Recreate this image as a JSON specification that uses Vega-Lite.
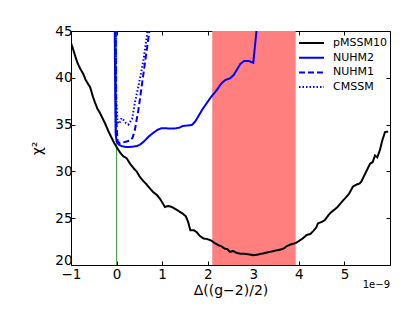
{
  "$schema": "https://vega.github.io/schema/vega-lite/v6.json",
  "autosize": "none",
  "width": 319,
  "height": 234,
  "padding": {"left": 71, "top": 31, "right": 25, "bottom": 47},
  "background": "white",
  "config": {
    "font": "DejaVu Sans",
    "view": {"stroke": "black", "strokeWidth": 1},
    "axis": {
      "domain": false,
      "grid": false,
      "tickColor": "black",
      "tickSize": -4,
      "labelFlush": false,
      "labelOverlap": false,
      "labelFontSize": 13.5,
      "labelColor": "black",
      "labelFont": "DejaVu Sans",
      "titleFont": "DejaVu Sans",
      "titleFontSize": 14,
      "titleFontWeight": "normal",
      "titleColor": "black"
    }
  },
  "datasets": {
    "band": [{"lo": 2.1, "hi": 3.93}],
    "curves": [
      {"s": "pMSSM10", "x": -1.0, "chi": 43.7},
      {"s": "pMSSM10", "x": -0.95, "chi": 43.0},
      {"s": "pMSSM10", "x": -0.9, "chi": 42.2},
      {"s": "pMSSM10", "x": -0.85, "chi": 41.5},
      {"s": "pMSSM10", "x": -0.8, "chi": 41.0},
      {"s": "pMSSM10", "x": -0.73, "chi": 40.4},
      {"s": "pMSSM10", "x": -0.68, "chi": 39.8},
      {"s": "pMSSM10", "x": -0.62, "chi": 39.3},
      {"s": "pMSSM10", "x": -0.58, "chi": 39.0},
      {"s": "pMSSM10", "x": -0.52, "chi": 38.0},
      {"s": "pMSSM10", "x": -0.47, "chi": 37.3},
      {"s": "pMSSM10", "x": -0.42, "chi": 36.7},
      {"s": "pMSSM10", "x": -0.36, "chi": 36.2},
      {"s": "pMSSM10", "x": -0.3, "chi": 35.6},
      {"s": "pMSSM10", "x": -0.25, "chi": 35.1},
      {"s": "pMSSM10", "x": -0.18, "chi": 34.3},
      {"s": "pMSSM10", "x": -0.12, "chi": 33.7},
      {"s": "pMSSM10", "x": -0.06, "chi": 33.1},
      {"s": "pMSSM10", "x": 0.0, "chi": 32.6},
      {"s": "pMSSM10", "x": 0.08, "chi": 32.0},
      {"s": "pMSSM10", "x": 0.15, "chi": 31.6},
      {"s": "pMSSM10", "x": 0.22, "chi": 31.4},
      {"s": "pMSSM10", "x": 0.3, "chi": 30.8},
      {"s": "pMSSM10", "x": 0.38, "chi": 30.3},
      {"s": "pMSSM10", "x": 0.44, "chi": 30.0},
      {"s": "pMSSM10", "x": 0.5, "chi": 29.5},
      {"s": "pMSSM10", "x": 0.58, "chi": 29.0},
      {"s": "pMSSM10", "x": 0.66, "chi": 28.6},
      {"s": "pMSSM10", "x": 0.73, "chi": 28.2},
      {"s": "pMSSM10", "x": 0.8, "chi": 27.8},
      {"s": "pMSSM10", "x": 0.88, "chi": 27.5},
      {"s": "pMSSM10", "x": 0.95, "chi": 27.1},
      {"s": "pMSSM10", "x": 1.0, "chi": 26.7},
      {"s": "pMSSM10", "x": 1.06, "chi": 26.2},
      {"s": "pMSSM10", "x": 1.13, "chi": 26.3},
      {"s": "pMSSM10", "x": 1.21, "chi": 26.2},
      {"s": "pMSSM10", "x": 1.28, "chi": 26.0},
      {"s": "pMSSM10", "x": 1.35, "chi": 25.8},
      {"s": "pMSSM10", "x": 1.45, "chi": 25.5},
      {"s": "pMSSM10", "x": 1.52, "chi": 25.2},
      {"s": "pMSSM10", "x": 1.57, "chi": 24.6},
      {"s": "pMSSM10", "x": 1.62, "chi": 23.7},
      {"s": "pMSSM10", "x": 1.7, "chi": 23.7},
      {"s": "pMSSM10", "x": 1.76, "chi": 23.5},
      {"s": "pMSSM10", "x": 1.83, "chi": 23.1},
      {"s": "pMSSM10", "x": 1.9, "chi": 22.85},
      {"s": "pMSSM10", "x": 2.0, "chi": 22.75},
      {"s": "pMSSM10", "x": 2.08, "chi": 22.6},
      {"s": "pMSSM10", "x": 2.15, "chi": 22.35},
      {"s": "pMSSM10", "x": 2.22, "chi": 22.15},
      {"s": "pMSSM10", "x": 2.3, "chi": 22.0},
      {"s": "pMSSM10", "x": 2.37, "chi": 21.75},
      {"s": "pMSSM10", "x": 2.43, "chi": 21.7},
      {"s": "pMSSM10", "x": 2.49, "chi": 21.4},
      {"s": "pMSSM10", "x": 2.56, "chi": 21.5},
      {"s": "pMSSM10", "x": 2.63, "chi": 21.3},
      {"s": "pMSSM10", "x": 2.71, "chi": 21.2},
      {"s": "pMSSM10", "x": 2.8, "chi": 21.2},
      {"s": "pMSSM10", "x": 2.88, "chi": 21.15},
      {"s": "pMSSM10", "x": 3.0, "chi": 21.05},
      {"s": "pMSSM10", "x": 3.08, "chi": 21.1},
      {"s": "pMSSM10", "x": 3.18, "chi": 21.2},
      {"s": "pMSSM10", "x": 3.27, "chi": 21.3},
      {"s": "pMSSM10", "x": 3.36, "chi": 21.4},
      {"s": "pMSSM10", "x": 3.45, "chi": 21.5},
      {"s": "pMSSM10", "x": 3.55, "chi": 21.6},
      {"s": "pMSSM10", "x": 3.63, "chi": 21.7},
      {"s": "pMSSM10", "x": 3.68, "chi": 21.8},
      {"s": "pMSSM10", "x": 3.73, "chi": 22.0},
      {"s": "pMSSM10", "x": 3.82, "chi": 22.2},
      {"s": "pMSSM10", "x": 3.9, "chi": 22.3},
      {"s": "pMSSM10", "x": 3.95, "chi": 22.4},
      {"s": "pMSSM10", "x": 4.03, "chi": 22.65},
      {"s": "pMSSM10", "x": 4.1, "chi": 22.9},
      {"s": "pMSSM10", "x": 4.17, "chi": 23.2},
      {"s": "pMSSM10", "x": 4.25, "chi": 23.3},
      {"s": "pMSSM10", "x": 4.32, "chi": 23.65},
      {"s": "pMSSM10", "x": 4.38, "chi": 24.0},
      {"s": "pMSSM10", "x": 4.42, "chi": 24.45},
      {"s": "pMSSM10", "x": 4.5, "chi": 24.6},
      {"s": "pMSSM10", "x": 4.57, "chi": 24.8},
      {"s": "pMSSM10", "x": 4.63, "chi": 25.2},
      {"s": "pMSSM10", "x": 4.7, "chi": 25.6},
      {"s": "pMSSM10", "x": 4.79, "chi": 25.95},
      {"s": "pMSSM10", "x": 4.85, "chi": 26.2},
      {"s": "pMSSM10", "x": 4.9, "chi": 26.5},
      {"s": "pMSSM10", "x": 4.97, "chi": 26.9},
      {"s": "pMSSM10", "x": 5.03, "chi": 27.2},
      {"s": "pMSSM10", "x": 5.1, "chi": 27.6},
      {"s": "pMSSM10", "x": 5.19, "chi": 28.4},
      {"s": "pMSSM10", "x": 5.27, "chi": 28.6},
      {"s": "pMSSM10", "x": 5.33, "chi": 28.7},
      {"s": "pMSSM10", "x": 5.37, "chi": 28.9},
      {"s": "pMSSM10", "x": 5.43, "chi": 29.5},
      {"s": "pMSSM10", "x": 5.5, "chi": 30.2},
      {"s": "pMSSM10", "x": 5.56, "chi": 30.8},
      {"s": "pMSSM10", "x": 5.62, "chi": 31.0},
      {"s": "pMSSM10", "x": 5.67, "chi": 31.7},
      {"s": "pMSSM10", "x": 5.72, "chi": 31.5},
      {"s": "pMSSM10", "x": 5.78, "chi": 32.3},
      {"s": "pMSSM10", "x": 5.83, "chi": 33.3},
      {"s": "pMSSM10", "x": 5.89, "chi": 34.2},
      {"s": "pMSSM10", "x": 5.96, "chi": 34.25},
      {"s": "NUHM2", "x": -0.04, "chi": 45},
      {"s": "NUHM2", "x": -0.03, "chi": 38},
      {"s": "NUHM2", "x": -0.02, "chi": 34.0},
      {"s": "NUHM2", "x": 0.0, "chi": 33.2},
      {"s": "NUHM2", "x": 0.05, "chi": 32.85},
      {"s": "NUHM2", "x": 0.11, "chi": 32.7},
      {"s": "NUHM2", "x": 0.2, "chi": 32.62},
      {"s": "NUHM2", "x": 0.3, "chi": 32.62},
      {"s": "NUHM2", "x": 0.37, "chi": 32.65},
      {"s": "NUHM2", "x": 0.45, "chi": 32.72},
      {"s": "NUHM2", "x": 0.51, "chi": 32.85},
      {"s": "NUHM2", "x": 0.6, "chi": 33.2},
      {"s": "NUHM2", "x": 0.7, "chi": 33.7},
      {"s": "NUHM2", "x": 0.8, "chi": 34.1},
      {"s": "NUHM2", "x": 0.9, "chi": 34.45},
      {"s": "NUHM2", "x": 0.98, "chi": 34.6},
      {"s": "NUHM2", "x": 1.05, "chi": 34.62},
      {"s": "NUHM2", "x": 1.17, "chi": 34.58},
      {"s": "NUHM2", "x": 1.3, "chi": 34.6},
      {"s": "NUHM2", "x": 1.39, "chi": 34.7},
      {"s": "NUHM2", "x": 1.45, "chi": 34.85},
      {"s": "NUHM2", "x": 1.55, "chi": 34.9},
      {"s": "NUHM2", "x": 1.65, "chi": 34.95},
      {"s": "NUHM2", "x": 1.72, "chi": 35.3},
      {"s": "NUHM2", "x": 1.79, "chi": 35.85},
      {"s": "NUHM2", "x": 1.88, "chi": 36.6},
      {"s": "NUHM2", "x": 1.98, "chi": 37.3},
      {"s": "NUHM2", "x": 2.08, "chi": 38.0},
      {"s": "NUHM2", "x": 2.2, "chi": 38.7},
      {"s": "NUHM2", "x": 2.3, "chi": 39.4},
      {"s": "NUHM2", "x": 2.38, "chi": 39.75},
      {"s": "NUHM2", "x": 2.49, "chi": 39.95},
      {"s": "NUHM2", "x": 2.57, "chi": 40.3},
      {"s": "NUHM2", "x": 2.65, "chi": 40.95},
      {"s": "NUHM2", "x": 2.72, "chi": 41.5},
      {"s": "NUHM2", "x": 2.8, "chi": 41.8},
      {"s": "NUHM2", "x": 2.9, "chi": 41.8},
      {"s": "NUHM2", "x": 3.0, "chi": 41.6},
      {"s": "NUHM2", "x": 3.07, "chi": 45},
      {"s": "NUHM1", "x": -0.02, "chi": 45},
      {"s": "NUHM1", "x": -0.01, "chi": 36},
      {"s": "NUHM1", "x": 0.02, "chi": 33.3},
      {"s": "NUHM1", "x": 0.06, "chi": 33.0},
      {"s": "NUHM1", "x": 0.15, "chi": 33.1},
      {"s": "NUHM1", "x": 0.22, "chi": 33.2},
      {"s": "NUHM1", "x": 0.3, "chi": 33.3},
      {"s": "NUHM1", "x": 0.35, "chi": 33.6},
      {"s": "NUHM1", "x": 0.4, "chi": 34.4},
      {"s": "NUHM1", "x": 0.44, "chi": 35.5},
      {"s": "NUHM1", "x": 0.48, "chi": 36.6},
      {"s": "NUHM1", "x": 0.55, "chi": 39.05},
      {"s": "NUHM1", "x": 0.62, "chi": 41.5},
      {"s": "NUHM1", "x": 0.72, "chi": 45},
      {"s": "CMSSM", "x": -0.02, "chi": 45},
      {"s": "CMSSM", "x": -0.01, "chi": 38},
      {"s": "CMSSM", "x": 0.02, "chi": 35.3},
      {"s": "CMSSM", "x": 0.06, "chi": 35.1},
      {"s": "CMSSM", "x": 0.11, "chi": 35.7},
      {"s": "CMSSM", "x": 0.15, "chi": 35.5},
      {"s": "CMSSM", "x": 0.2, "chi": 35.2},
      {"s": "CMSSM", "x": 0.26, "chi": 35.0},
      {"s": "CMSSM", "x": 0.3, "chi": 35.3},
      {"s": "CMSSM", "x": 0.34, "chi": 35.6},
      {"s": "CMSSM", "x": 0.4, "chi": 37.3},
      {"s": "CMSSM", "x": 0.48, "chi": 39.1},
      {"s": "CMSSM", "x": 0.59, "chi": 41.9},
      {"s": "CMSSM", "x": 0.68, "chi": 45}
    ]
  },
  "layer": [
    {
      "data": {"name": "band"},
      "mark": {"type": "rect", "color": "#ff7f7f", "opacity": 1},
      "encoding": {
        "x": {
          "field": "lo", "type": "quantitative",
          "scale": {"domain": [-1, 6], "nice": false, "zero": false},
          "axis": {"orient": "bottom", "values": [-1, 0, 1, 2, 3, 4, 5], "labelPadding": 6, "title": "Δ((g−2)/2)", "titlePadding": 3}
        },
        "x2": {"field": "hi"}
      }
    },
    {
      "data": {"values": [{}]},
      "mark": {"type": "rule", "color": "#3a9a3a", "strokeWidth": 1},
      "encoding": {
        "x": {"datum": 0, "type": "quantitative", "axis": {"orient": "top", "values": [-1, 0, 1, 2, 3, 4, 5], "labels": false, "title": null}}
      }
    },
    {
      "data": {"name": "curves"},
      "mark": {"type": "line", "strokeWidth": 2, "clip": true},
      "encoding": {
        "x": {"field": "x", "type": "quantitative", "axis": null},
        "y": {
          "field": "chi", "type": "quantitative",
          "scale": {"domain": [20, 45], "nice": false, "zero": false},
          "axis": {
            "orient": "left", "values": [20, 25, 30, 35, 40, 45], "labelPadding": 3,
            "labelOffset": {"condition": {"test": "datum.value == 20", "value": -5}, "value": 0},
            "title": "χ²", "titlePadding": 10
          }
        },
        "detail": {"field": "s"},
        "order": {"field": "x", "type": "quantitative"},
        "color": {
          "field": "s", "type": "nominal",
          "scale": {"domain": ["pMSSM10", "NUHM2", "NUHM1", "CMSSM"], "range": ["#000000", "#0000ff", "#0000ff", "#0000ff"]},
          "legend": {
            "title": null, "orient": "none", "legendX": 227, "legendY": 6,
            "symbolType": "stroke", "symbolSize": 625, "symbolStrokeWidth": 2,
            "labelFontSize": 11, "labelFont": "DejaVu Sans", "labelColor": "black",
            "clipHeight": 12, "rowPadding": 2.7, "labelOffset": 8
          }
        },
        "strokeDash": {
          "field": "s", "type": "nominal",
          "scale": {"domain": ["pMSSM10", "NUHM2", "NUHM1", "CMSSM"], "range": [[1, 0], [1, 0], [6, 3], [1.5, 2]]},
          "legend": {
            "title": null, "orient": "none", "legendX": 227, "legendY": 6,
            "symbolType": "stroke", "symbolSize": 625, "symbolStrokeWidth": 2,
            "labelFontSize": 11, "labelFont": "DejaVu Sans", "labelColor": "black",
            "clipHeight": 12, "rowPadding": 2.7, "labelOffset": 8
          }
        }
      }
    },
    {
      "data": {"values": [{"t": "1e−9"}]},
      "mark": {"type": "text", "align": "right", "baseline": "top", "dy": 15, "fontSize": 10, "font": "DejaVu Sans", "color": "black"},
      "encoding": {
        "x": {"datum": 6, "type": "quantitative", "axis": null},
        "y": {"datum": 20, "type": "quantitative", "axis": {"orient": "right", "values": [20, 25, 30, 35, 40, 45], "labels": false, "title": null}},
        "text": {"field": "t"}
      }
    }
  ],
  "resolve": {"axis": {"x": "independent", "y": "independent"}}
}
